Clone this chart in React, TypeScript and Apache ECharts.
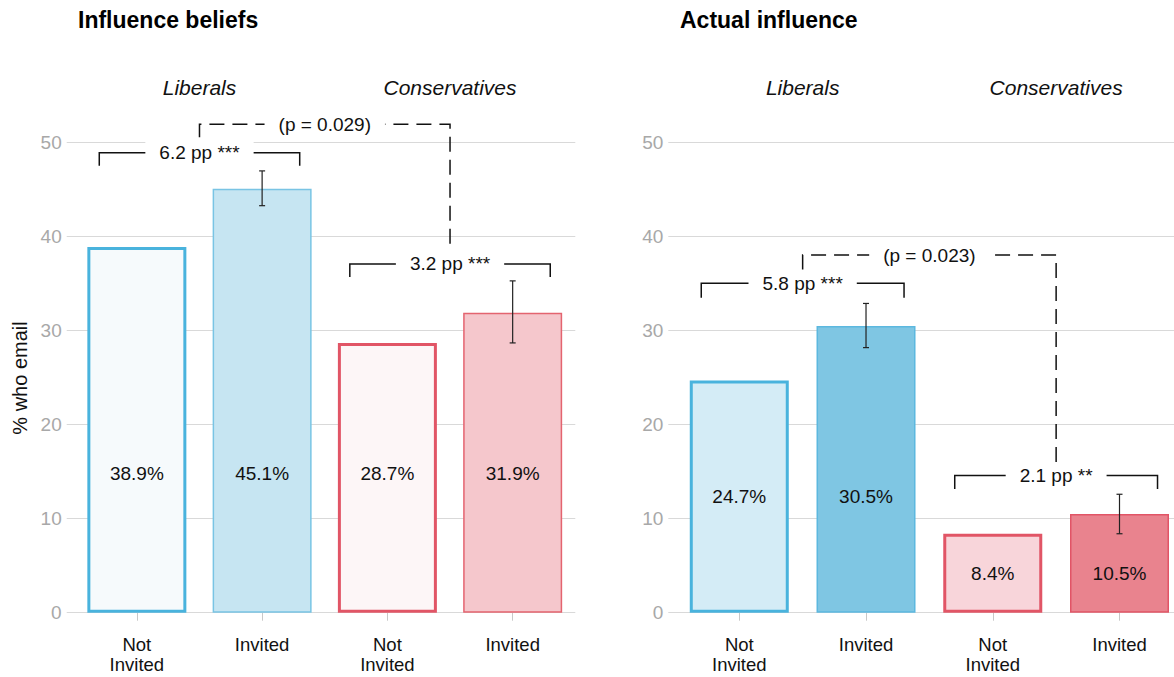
import React, { useEffect, useRef } from "react";
import * as echarts from "echarts";

const panelTitles = ["Influence beliefs", "Actual influence"];
const groupNames = ["Liberals", "Conservatives"];
const groupCenters = [0.5, 2.5];
const xPositions = [0, 1, 2, 3];
const xLabels = ["Not\nInvited", "Invited", "Not\nInvited", "Invited"];
const yAxisTitle = "% who email";

const beliefsValues = [38.9, 45.1, 28.7, 31.9];
const actualValues = [24.7, 30.5, 8.4, 10.5];

// error bars: [x, low, high]
const beliefsErrors = [[1, 43.3, 47.0], [3, 28.7, 35.3]];
const actualErrors = [[1, 28.2, 32.9], [3, 8.4, 12.6]];

// where the value labels sit (in % units)
const beliefsLabelY = [14.85, 14.85, 14.85, 14.85];
const actualLabelY = [12.35, 12.35, 4.2, 4.2];

// within-group brackets: [x1, x2, y, legBottom]
const beliefsBrackets = [[-0.3, 1.3, 48.94, 47.55], [1.7, 3.3, 37.1, 35.7]];
const beliefsBracketText = ["6.2 pp ***", "3.2 pp ***"];
const actualBrackets = [[-0.3, 1.3, 35.04, 33.5], [1.7, 3.3, 14.6, 13.15]];
const actualBracketText = ["5.8 pp ***", "2.1 pp **"];

// between-group dashed bracket: [x1, x2, y, leftLegBottom, rightLegBottom]
const beliefsDiff = [[0.5, 2.5, 51.96, 50.57, 38.6]];
const beliefsDiffText = ["(p = 0.029)"];
const actualDiff = [[0.5, 2.5, 38.05, 36.5, 15.9]];
const actualDiffText = ["(p = 0.023)"];

const groupLabelY = 55.9;

const FONT = '"Liberation Sans", Arial, Helvetica, sans-serif';
const INK = "#111111";

const beliefsStyles = [
  { color: "#f6fafc", borderColor: "#49b3dd", borderWidth: 3 },
  { color: "#c6e5f2", borderColor: "#79c4e4", borderWidth: 1.5 },
  { color: "#fdf6f7", borderColor: "#e15566", borderWidth: 3 },
  { color: "#f5c7cc", borderColor: "#e4646f", borderWidth: 1.5 },
];
const actualStyles = [
  { color: "#d4ecf6", borderColor: "#49b3dd", borderWidth: 3 },
  { color: "#7fc6e3", borderColor: "#5cb8df", borderWidth: 1.5 },
  { color: "#f8d5da", borderColor: "#e15566", borderWidth: 3 },
  { color: "#e9838e", borderColor: "#e15566", borderWidth: 1.5 },
];

function panelSeries(gi: number, values: number[], styles: any[], errors: number[][], labelY: number[],
  brackets: number[][], bracketText: string[], diff: number[][], diffText: string[]) {
  const bar = {
    type: "bar",
    xAxisIndex: gi,
    yAxisIndex: gi,
    barWidth: 99,
    z: 2,
    silent: true,
    data: values.map((v, i) => ({ value: [xPositions[i], v], itemStyle: styles[i] })),
  };
  const err = {
    type: "custom",
    xAxisIndex: gi,
    yAxisIndex: gi,
    z: 4,
    silent: true,
    dimensions: ["x", "lo", "hi"],
    encode: { x: 0, y: [1, 2] },
    data: errors,
    renderItem: (params: any, api: any) => {
      const x = api.value(0);
      const top = api.coord([x, api.value(2)]);
      const bot = api.coord([x, api.value(1)]);
      const st = { stroke: "#222", lineWidth: 1.2 };
      return {
        type: "group",
        children: [
          { type: "line", shape: { x1: top[0], y1: top[1], x2: bot[0], y2: bot[1] }, style: st },
          { type: "line", shape: { x1: top[0] - 3, y1: top[1], x2: top[0] + 3, y2: top[1] }, style: st },
          { type: "line", shape: { x1: bot[0] - 3, y1: bot[1], x2: bot[0] + 3, y2: bot[1] }, style: st },
        ],
      };
    },
  };
  const labels = {
    type: "custom",
    xAxisIndex: gi,
    yAxisIndex: gi,
    z: 5,
    silent: true,
    data: labelY.map((y, i) => [xPositions[i], y]),
    renderItem: (params: any, api: any) => {
      const p = api.coord([api.value(0), api.value(1)]);
      return {
        type: "text",
        x: p[0],
        y: p[1],
        style: {
          text: values[params.dataIndex].toFixed(1) + "%",
          fill: INK,
          font: `19px ${FONT}`,
          align: "center",
          verticalAlign: "middle",
        },
      };
    },
  };
  const groups = {
    type: "custom",
    xAxisIndex: gi,
    yAxisIndex: gi,
    z: 5,
    silent: true,
    data: groupCenters.map((x) => [x, groupLabelY]),
    renderItem: (params: any, api: any) => {
      const p = api.coord([api.value(0), api.value(1)]);
      return {
        type: "text",
        x: p[0],
        y: p[1],
        style: {
          text: groupNames[params.dataIndex],
          fill: INK,
          font: `italic 21px ${FONT}`,
          align: "center",
          verticalAlign: "middle",
        },
      };
    },
  };
  const br = {
    type: "custom",
    xAxisIndex: gi,
    yAxisIndex: gi,
    z: 6,
    silent: true,
    dimensions: ["x1", "x2", "y", "yb"],
    encode: { x: [0, 1], y: [2, 3] },
    data: brackets,
    renderItem: (params: any, api: any) => {
      const x1 = api.value(0), x2 = api.value(1), y = api.value(2), yb = api.value(3);
      const a = api.coord([x1, yb]), b = api.coord([x1, y]), c = api.coord([x2, y]), d = api.coord([x2, yb]);
      const m = api.coord([(x1 + x2) / 2, y]);
      return {
        type: "group",
        children: [
          { type: "polyline", shape: { points: [a, b, c, d] }, style: { stroke: INK, lineWidth: 1.5, fill: null } },
          {
            type: "text",
            x: m[0],
            y: m[1],
            style: {
              text: bracketText[params.dataIndex],
              fill: INK,
              font: `19px ${FONT}`,
              align: "center",
              verticalAlign: "middle",
              backgroundColor: "#ffffff",
              padding: [2, 14],
            },
          },
        ],
      };
    },
  };
  const df = {
    type: "custom",
    xAxisIndex: gi,
    yAxisIndex: gi,
    z: 3,
    silent: true,
    dimensions: ["x1", "x2", "y", "yl", "yr"],
    encode: { x: [0, 1], y: [2, 3, 4] },
    data: diff,
    renderItem: (params: any, api: any) => {
      const x1 = api.value(0), x2 = api.value(1), y = api.value(2), yl = api.value(3), yr = api.value(4);
      const a = api.coord([x1, yl]), b = api.coord([x1, y]), c = api.coord([x2, y]), d = api.coord([x2, yr]);
      const m = api.coord([(x1 + x2) / 2, y]);
      return {
        type: "group",
        children: [
          {
            type: "polyline",
            shape: { points: [a, b, c, d] },
            style: { stroke: INK, lineWidth: 1.5, fill: null, lineDash: [15, 8] },
          },
          {
            type: "text",
            x: m[0],
            y: m[1],
            style: {
              text: diffText[params.dataIndex],
              fill: INK,
              font: `19px ${FONT}`,
              align: "center",
              verticalAlign: "middle",
              backgroundColor: "#ffffff",
              padding: [2, 14],
            },
          },
        ],
      };
    },
  };
  return [bar, df, err, labels, groups, br];
}

function xAxis(gi: number, max: number) {
  return {
    type: "value",
    gridIndex: gi,
    min: -0.56,
    max,
    offset: 12,
    axisLine: { show: false },
    splitLine: { show: false },
    axisTick: { show: true, customValues: xPositions, length: 8, lineStyle: { color: "#c8c8c8" } },
    axisLabel: {
      customValues: xPositions,
      formatter: (v: number) => xLabels[Math.round(v)] ?? "",
      color: INK,
      fontSize: 18.5,
      lineHeight: 20,
      margin: 10,
      fontFamily: FONT,
    },
  };
}

function yAxis(gi: number) {
  return {
    type: "value",
    gridIndex: gi,
    min: 0,
    max: 50,
    interval: 10,
    axisLine: { show: false },
    axisTick: { show: false },
    axisLabel: { color: "#a8a8a8", fontSize: 19, margin: 5, fontFamily: FONT },
    splitLine: { show: true, lineStyle: { color: "#d9d9d9", width: 1.2 } },
  };
}

export default function App() {
  const ref = useRef<HTMLDivElement>(null);
  useEffect(() => {
    if (!ref.current) return;
    const chart = echarts.init(ref.current, undefined, { renderer: "svg" });
    chart.setOption({
      animation: false,
      backgroundColor: "#ffffff",
      textStyle: { fontFamily: FONT },
      grid: [
        { left: 66.7, top: 142.7, width: 508.6, height: 470 },
        { left: 668.3, top: 142.7, width: 505.7, height: 470 },
      ],
      xAxis: [xAxis(0, 3.5), xAxis(1, 3.43)],
      yAxis: [yAxis(0), yAxis(1)],
      graphic: [
        { type: "text", left: 78, top: 8, style: { text: panelTitles[0], font: `bold 23px ${FONT}`, fill: "#000" } },
        { type: "text", left: 680, top: 8, style: { text: panelTitles[1], font: `bold 23px ${FONT}`, fill: "#000" } },
        {
          type: "text",
          x: 20,
          y: 378,
          rotation: Math.PI / 2,
          style: { text: yAxisTitle, font: `20px ${FONT}`, fill: INK, align: "center", verticalAlign: "middle" },
        },
      ],
      series: [
        ...panelSeries(0, beliefsValues, beliefsStyles, beliefsErrors, beliefsLabelY, beliefsBrackets,
          beliefsBracketText, beliefsDiff, beliefsDiffText),
        ...panelSeries(1, actualValues, actualStyles, actualErrors, actualLabelY, actualBrackets,
          actualBracketText, actualDiff, actualDiffText),
      ],
    });
    return () => chart.dispose();
  }, []);
  return <div ref={ref} style={{ position: "fixed", left: 0, top: 0, width: 1174, height: 677 }} />;
}
